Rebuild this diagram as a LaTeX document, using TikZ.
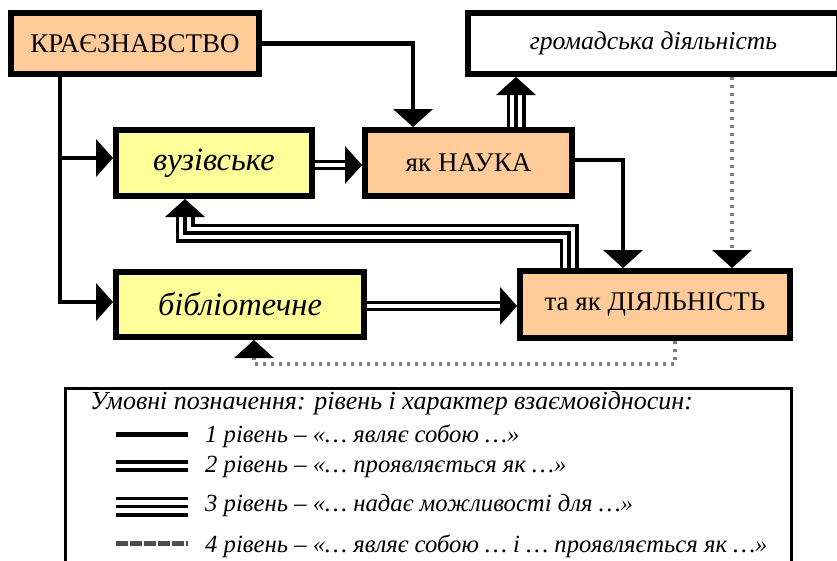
\documentclass[tikz,border=0pt]{standalone}
\usepackage{fontspec}
\setmainfont{Liberation Serif}
\usetikzlibrary{calc}
\definecolor{peach}{HTML}{FFCC99}
\definecolor{lemon}{HTML}{FFFF99}
\begin{document}
\begin{tikzpicture}[x=1pt,y=-1pt,
  box/.style={draw=black, line width=6pt, inner sep=0pt, font=\fontsize{27}{30}\selectfont},
  bigit/.style={font=\fontsize{32.5}{36}\selectfont\itshape},
  l1/.style={draw=black, line width=4.5pt},
  l2/.style={draw=black, line width=3.2pt, double=white, double distance=3.5pt},
  l3/.style={draw=black, line width=19pt, line join=miter,
     postaction={draw=white, line width=12.5pt},
     postaction={draw=black, line width=3.3pt}},
  hatch/.style={draw=black!50, line width=4pt, dash pattern=on 3pt off 5pt},
  legtext/.style={anchor=base west, inner sep=0pt, font=\fontsize{24.7}{28}\selectfont\itshape},
  arrD/.pic={\fill (0,0) -- (-20,-18) -- (20,-18) -- cycle;},
  arrU/.pic={\fill (0,0) -- (-20,18) -- (20,18) -- cycle;},
  arrR/.pic={\fill (0,0) -- (-17,-19) -- (-17,19) -- cycle;}
]
\useasboundingbox (0,0) rectangle (837,560);
\fill[white] (0,0) rectangle (837,560);

% boxes
\node[box, fill=peach, minimum width=248pt, minimum height=61pt] (kra) at (135,43.5) {КРАЄЗНАВСТВО};
\node[box, fill=white, minimum width=371pt, minimum height=61pt, font=\fontsize{25.7}{30}\selectfont\itshape] (hrom) at (653.5,43.5) {громадська діяльність};
\node[box, bigit, fill=lemon, minimum width=196pt, minimum height=66pt] (vuz) at (214,163) {вузівське};
\node[box, fill=peach, minimum width=207pt, minimum height=66pt] (nauka) at (468.5,163) {як НАУКА};
\node[box, bigit, fill=lemon, minimum width=248pt, minimum height=65pt] (bib) at (240,304.5) {бібліотечне};
\node[box, fill=peach, minimum width=270pt, minimum height=67pt] (dial) at (655,304.5) {та як ДІЯЛЬНІСТЬ};

% helper coordinates
\coordinate (n1) at ($(nauka.north west)+(51,0)$);
\coordinate (k1) at ($(kra.south west)+(52,0)$);
\coordinate (v1) at ($(vuz.west)+(0,-5)$);
\coordinate (bb1) at ($(bib.west)+(0,-2.5)$);
\coordinate (n2) at ($(nauka.west)+(0,2)$);
\coordinate (n3) at ($(nauka.north west)+(154,0)$);
\coordinate (ne) at ($(nauka.east)+(0,-3)$);
\coordinate (d1) at ($(dial.north west)+(106,0)$);
\coordinate (d2) at ($(dial.north west)+(215,0)$);
\coordinate (d3) at ($(dial.north west)+(52,0)$);
\coordinate (v2) at ($(vuz.south west)+(72,0)$);
\coordinate (y233) at (0,233);
\coordinate (d4) at ($(dial.west)+(0,1.5)$);
\coordinate (d5) at ($(dial.south west)+(158,0)$);
\coordinate (b2) at ($(bib.south west)+(141,0)$);
\coordinate (y364) at (0,364);

% level 1
\draw[l1] (kra.east) -| ($(n1)+(0,-17)$);
\pic at (n1) {arrD};
\draw[l1] (k1) |- ($(bb1)+(-16,0)$);
\pic at (bb1) {arrR};
\draw[l1] (k1 |- v1) -- ($(v1)+(-16,0)$);
\pic at (v1) {arrR};
\draw[l1] (ne) -| ($(d1)+(0,-17)$);
\pic at (d1) {arrD};

% level 2
\draw[l2] (vuz.east |- n2) -- ($(n2)+(-16,0)$);
\pic at (n2) {arrR};
\draw[l2] (bib.east |- d4) -- ($(d4)+(-16,0)$);
\pic at (d4) {arrR};

% level 3
\draw[l3] (n3) -- ($(n3 |- hrom.south)+(0,17)$);
\pic at (n3 |- hrom.south) {arrU};
\draw[l3] (d3) |- (y233 -| v2) -- ($(v2)+(0,17)$);
\pic at (v2) {arrU};

% level 4
\draw[hatch] (d2 |- hrom.south) -- ($(d2)+(0,-17)$);
\pic at (d2) {arrD};
\draw[hatch] (d5) |- (y364 -| b2) -- ($(b2)+(0,17)$);
\pic at (b2) {arrU};

% legend
\node[draw=black, line width=3pt, minimum width=726pt, minimum height=180pt, anchor=north west, inner sep=0pt] (leg) at (64,387) {};
\node[legtext, font=\fontsize{26}{30}\selectfont\itshape] (lt) at (90,409) {Умовні позначення: рівень і характер взаємовідносин:};
\node[legtext] (r1) at (205,442) {1 рівень – «… являє собою …»};
\node[legtext] (r2) at (205,472) {2 рівень – «… проявляється як …»};
\node[legtext] (r3) at (205,511) {3 рівень – «… надає можливості для …»};
\node[legtext] (r4) at (205,552) {4 рівень – «… являє собою … і … проявляється як …»};
\coordinate (s1a) at (116,434.5); \coordinate (s1b) at (188,434.5);
\coordinate (s2a) at (116,466); \coordinate (s2b) at (188,466);
\coordinate (s3a) at (116,506.5); \coordinate (s3b) at (188,506.5);
\coordinate (s4a) at (116,543); \coordinate (s4b) at (188,543);
\draw[draw=black, line width=5.5pt] (s1a) -- (s1b);
\draw[draw=black, line width=3.5pt, double=white, double distance=4.5pt] (s2a) -- (s2b);
\draw[draw=black, line width=20pt, postaction={draw=white, line width=13pt}, postaction={draw=black, line width=3.5pt}] (s3a) -- (s3b);
\draw[draw=black!70, line width=5pt, dash pattern=on 12pt off 2pt] (s4a) -- (s4b);
\end{tikzpicture}
\end{document}
